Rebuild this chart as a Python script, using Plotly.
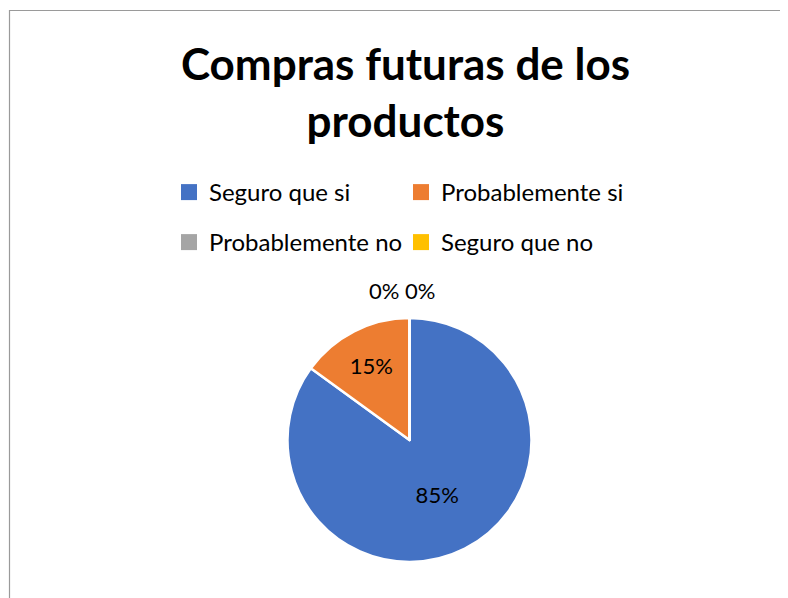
import plotly.graph_objects as go

# page body has an 8px margin, so the figure is slightly smaller than the window
OFF = 8
W, H = 788 - OFF, 598 - OFF

categories = ["Seguro que si", "Probablemente si", "Probablemente no", "Seguro que no"]
values = [85, 15, 0, 0]
colors = ["#4472C4", "#ED7D31", "#A5A5A5", "#FFC000"]
legend_rows = ["legend", "legend", "legend2", "legend2"]

FONT = "Lato"


def px(x):
    return (x - OFF) / W


def py(y):
    return 1 - (y - OFF) / H


total = sum(values)
text_positions = ["inside" if v > 0 else "none" for v in values]
zero_text = " ".join(f"{100 * v / total:.0f}%" for v in values if v == 0)

fig = go.Figure()

fig.add_trace(go.Pie(
    labels=categories,
    values=values,
    sort=False,
    direction="clockwise",
    rotation=0,
    marker=dict(colors=colors, line=dict(color="white", width=2.5)),
    texttemplate="%{percent:.0%}",
    textposition=text_positions,
    insidetextorientation="horizontal",
    insidetextfont=dict(family=FONT, size=22, color="black"),
    domain=dict(x=[px(287.5), px(531.5)], y=[py(562), py(318)]),
    showlegend=False,
    hoverinfo="label+percent",
))

# legend entries (two rows, like the original)
for name, col, lg in zip(categories, colors, legend_rows):
    fig.add_trace(go.Scatter(
        x=[None], y=[None], mode="markers", name=name,
        marker=dict(symbol="square", size=16, color=col),
        legend=lg, hoverinfo="skip",
    ))

# labels of the empty slices sit side by side above the pie
fig.add_annotation(
    text=zero_text, xref="paper", yref="paper",
    x=px(402), y=py(290), xanchor="center", yanchor="middle",
    showarrow=False, font=dict(family=FONT, size=22, color="black"),
)

# chart area border
fig.add_shape(
    type="rect", xref="paper", yref="paper",
    x0=px(9.5), x1=1.02, y0=-0.02, y1=py(10.5),
    line=dict(color="#9a9a9a", width=1.2), fillcolor="rgba(0,0,0,0)",
)

legend_style = dict(
    orientation="h",
    xanchor="left", yanchor="middle",
    font=dict(family=FONT, size=24, color="black"),
    entrywidth=187, entrywidthmode="pixels",
    itemsizing="trace",
    bgcolor="rgba(0,0,0,0)",
)

fig.update_layout(
    width=W,
    height=H,
    margin=dict(l=0, r=0, t=0, b=0),
    paper_bgcolor="white",
    plot_bgcolor="white",
    xaxis=dict(visible=False),
    yaxis=dict(visible=False),
    title=dict(
        text="<b>Compras futuras de los<br>productos</b>",
        font=dict(family=FONT, size=44, color="black"),
        x=px(405.5), xanchor="center",
        y=py(79.5), yanchor="middle",
    ),
    legend=dict(x=px(169), y=py(192.5), **legend_style),
    legend2=dict(x=px(169), y=py(242.5), **legend_style),
)

fig.write_html("out.html")
